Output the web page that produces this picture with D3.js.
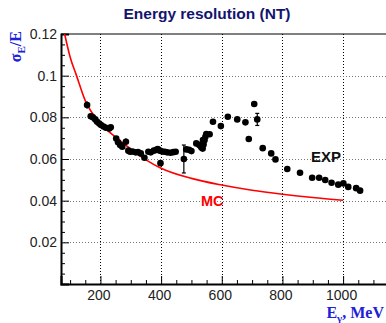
<!DOCTYPE html>
<html>
<head>
<meta charset="utf-8">
<script src="https://cdn.jsdelivr.net/npm/d3@7"></script>
<style>
  html, body { margin: 0; padding: 0; background: #fff; }
  svg { display: block; }
</style>
</head>
<body>
<svg id="chart" width="386" height="323"></svg>
<script>
// Measured photon energy resolution (EXP) and simulation (MC), NT calorimeter
const energy = [156, 168, 175, 183, 189, 196, 202, 210, 218, 229, 234,
  252, 258, 265, 272, 284, 292, 298, 306, 316, 324, 333, 345, 358, 366,
  376, 384, 389, 396, 398, 404, 412, 420, 431, 440, 448, 475, 483, 492,
  500, 516, 525, 530, 533, 537, 540, 543, 538, 546, 549, 560, 571, 597,
  620, 651, 678, 689, 707, 717, 735, 763, 777, 816, 858, 898, 921, 941,
  962, 984, 1001, 1017, 1043, 1056];
const sigma = [0.0859, 0.0805, 0.0800, 0.0790, 0.0779, 0.0770, 0.0763, 0.0756, 0.0750, 0.0747, 0.0752,
  0.0698, 0.0680, 0.0667, 0.0659, 0.0683, 0.0640, 0.0635, 0.0636, 0.0632, 0.0633, 0.0627, 0.0606, 0.0635, 0.0632,
  0.0640, 0.0644, 0.0648, 0.0640, 0.0580, 0.0636, 0.0635, 0.0632, 0.0630, 0.0633, 0.0635, 0.0600, 0.0646, 0.0644,
  0.0638, 0.0675, 0.0668, 0.0662, 0.0655, 0.0650, 0.0670, 0.0690, 0.0691, 0.0707, 0.0720, 0.0719, 0.0779, 0.0758,
  0.0803, 0.0790, 0.0776, 0.0696, 0.0864, 0.0790, 0.0652, 0.0627, 0.0598, 0.0552, 0.0534, 0.0510, 0.0510, 0.0499,
  0.0486, 0.0477, 0.0483, 0.0466, 0.0460, 0.0448];
const sigmaErr = [0.0018, 0.0008, 0.0008, 0.0008, 0.0008, 0.0008, 0.0008, 0.0008, 0.0008, 0.0008, 0.0008,
  0.0008, 0.0008, 0.0008, 0.0008, 0.0017, 0.0008, 0.0008, 0.0008, 0.0008, 0.0008, 0.0008, 0.0008, 0.0008, 0.0008,
  0.0008, 0.0008, 0.0015, 0.0008, 0.0015, 0.0008, 0.0008, 0.0008, 0.0008, 0.0008, 0.0008, 0.0067, 0.0008, 0.0008,
  0.0008, 0.0008, 0.0008, 0.0008, 0.0008, 0.0008, 0.0008, 0.0008, 0.0008, 0.0008, 0.0008, 0.0008, 0.0008, 0.0008,
  0.0008, 0.0008, 0.0008, 0.0008, 0.0008, 0.0029, 0.0008, 0.0008, 0.0008, 0.0008, 0.0008, 0.0008, 0.0008, 0.0008,
  0.0008, 0.0008, 0.0008, 0.0008, 0.0008, 0.0008];

const mcEnergy = [82, 100, 120, 150, 200, 250, 300, 350, 400, 500, 600, 700, 800, 900, 1000];
const mcSigma = [0.1200, 0.1090, 0.1005, 0.0880, 0.0771, 0.0705, 0.0648, 0.0596, 0.0556, 0.0507, 0.0475, 0.0450, 0.0431, 0.0415, 0.0402];

const xTicks = [200, 400, 600, 800, 1000];
const xTickLabels = ["200", "400", "600", "800", "1000"];
const yTicks = [0.02, 0.04, 0.06, 0.08, 0.1, 0.12];
const yTickLabels = ["0.02", "0.04", "0.06", "0.08", "0.1", "0.12"];

const svg = d3.select("#chart");
const plotL = 61, plotR = 388.6, plotT = 34, plotB = 284;

const x = d3.scaleLinear().domain([70, 1150]).range([plotL, plotR]);
const y = d3.scaleLinear().domain([0, 0.12]).range([plotB, plotT]);

// dotted grid at major ticks
const grid = svg.append("g").attr("stroke", "#000").attr("stroke-width", 1)
  .attr("stroke-dasharray", "1,2");
grid.selectAll("line.gx").data(xTicks).join("line")
  .attr("x1", d => Math.round(x(d)) + 0.5).attr("x2", d => Math.round(x(d)) + 0.5)
  .attr("y1", plotT).attr("y2", plotB);
grid.selectAll("line.gy").data(yTicks.slice(0, -1)).join("line")
  .attr("x1", plotL).attr("x2", plotR)
  .attr("y1", d => Math.round(y(d)) + 0.5).attr("y2", d => Math.round(y(d)) + 0.5)
  .attr("stroke", "#777");

// frame top edge
svg.append("line").attr("x1", plotL).attr("x2", plotR).attr("y1", plotT).attr("y2", plotT)
  .attr("stroke", "#000").attr("stroke-width", 1);

const tickFont = "'Liberation Sans', Arial, Helvetica, sans-serif";

// minor ticks
const yMinor = d3.range(1, 24).map(i => i * 0.005).filter(v => Math.abs(v / 0.02 - Math.round(v / 0.02)) > 1e-6);
const xMinor = d3.range(100, 1150, 50).filter(v => v % 200 !== 0);

svg.append("g").attr("transform", `translate(${plotL},0)`)
  .call(d3.axisLeft(y).tickValues(yMinor).tickSize(-4).tickFormat(""))
  .call(g => g.select(".domain").remove())
  .selectAll("line").attr("stroke", "#000");
svg.append("g").attr("transform", `translate(0,${plotB})`)
  .call(d3.axisBottom(x).tickValues(xMinor).tickSize(-4).tickFormat(""))
  .call(g => g.select(".domain").remove())
  .selectAll("line").attr("stroke", "#000");

// major axes
const yAxis = svg.append("g").attr("transform", `translate(${plotL},0)`)
  .call(d3.axisLeft(y).tickValues(yTicks).tickSize(-8).tickPadding(4)
    .tickFormat((d, i) => yTickLabels[i]));
yAxis.select(".domain").attr("stroke", "#000").attr("stroke-width", 2);
yAxis.selectAll("text").attr("font-family", tickFont).attr("font-size", 14).attr("fill", "#222");

const xAxis = svg.append("g").attr("transform", `translate(0,${plotB})`)
  .call(d3.axisBottom(x).tickValues(xTicks).tickSize(-8).tickPadding(6)
    .tickFormat((d, i) => xTickLabels[i]));
xAxis.select(".domain").attr("stroke", "#000").attr("stroke-width", 2);
xAxis.selectAll("text").attr("font-family", tickFont).attr("font-size", 14).attr("fill", "#222")
  .attr("dx", "-2");

// MC curve
const line = d3.line().x(d => x(d[0])).y(d => y(d[1])).curve(d3.curveMonotoneX);
svg.append("path").datum(mcEnergy.map((e, i) => [e, mcSigma[i]]))
  .attr("d", line).attr("fill", "none").attr("stroke", "#ff0000").attr("stroke-width", 1.6);

// EXP points with vertical error bars
const pts = energy.map((e, i) => ({ e, s: sigma[i], err: sigmaErr[i] }));
const eb = svg.append("g").attr("stroke", "#000").attr("stroke-width", 1.2);
eb.selectAll("line.bar").data(pts).join("line")
  .attr("x1", d => x(d.e)).attr("x2", d => x(d.e))
  .attr("y1", d => y(d.s - d.err)).attr("y2", d => y(d.s + d.err));
eb.selectAll("line.capHi").data(pts.filter(d => d.err > 0.002)).join("line")
  .attr("x1", d => x(d.e) - 2).attr("x2", d => x(d.e) + 2)
  .attr("y1", d => y(d.s + d.err)).attr("y2", d => y(d.s + d.err));
eb.selectAll("line.capLo").data(pts.filter(d => d.err > 0.002)).join("line")
  .attr("x1", d => x(d.e) - 2).attr("x2", d => x(d.e) + 2)
  .attr("y1", d => y(d.s - d.err)).attr("y2", d => y(d.s - d.err));
svg.append("g").selectAll("circle").data(pts).join("circle")
  .attr("cx", d => x(d.e)).attr("cy", d => y(d.s)).attr("r", 3.3).attr("fill", "#000");

// series labels
svg.append("text").attr("x", 311).attr("y", 162).text("EXP")
  .attr("font-family", tickFont).attr("font-weight", "bold").attr("font-size", 15).attr("fill", "#111");
svg.append("text").attr("x", 201).attr("y", 206).text("MC")
  .attr("font-family", tickFont).attr("font-weight", "bold").attr("font-size", 14.5).attr("fill", "#ff0000");

// title
svg.append("text").attr("x", 207).attr("y", 19).attr("text-anchor", "middle")
  .text("Energy resolution (NT)")
  .attr("font-family", tickFont).attr("font-weight", "bold").attr("font-size", 15.5).attr("fill", "#14146e");

// axis titles
const serif = "'Liberation Serif', 'Times New Roman', serif";
const yt = svg.append("text").attr("transform", "translate(21,31) rotate(-90)")
  .attr("text-anchor", "end").attr("font-family", serif).attr("font-weight", "bold")
  .attr("font-size", 16).attr("fill", "#2020d8");
yt.append("tspan").text("σ");
yt.append("tspan").text("E").attr("font-size", 11).attr("dy", 4);
yt.append("tspan").text("/E").attr("dy", -4);

const xt = svg.append("text").attr("x", 384).attr("y", 318)
  .attr("text-anchor", "end").attr("font-family", serif).attr("font-weight", "bold")
  .attr("font-size", 16).attr("fill", "#2020d8");
xt.append("tspan").text("E");
xt.append("tspan").text("γ").attr("font-size", 11).attr("dy", 4);
xt.append("tspan").text(", MeV").attr("dy", -4);
</script>
</body>
</html>
